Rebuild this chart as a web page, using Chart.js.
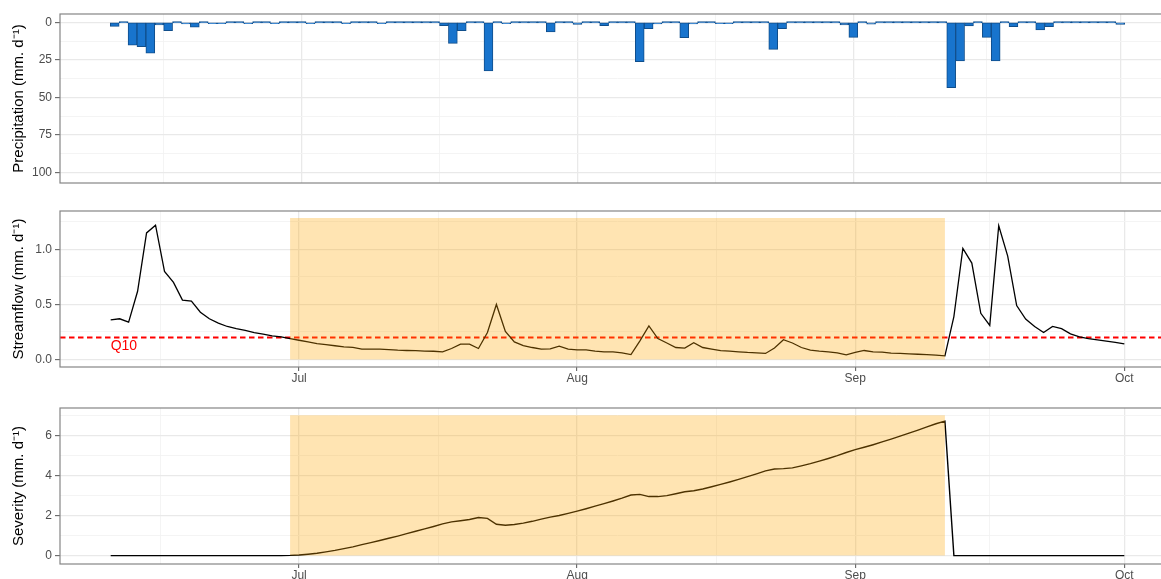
<!DOCTYPE html>
<html>
<head>
<meta charset="utf-8">
<script src="https://cdn.jsdelivr.net/npm/chart.js@4.4.0/dist/chart.umd.min.js"></script>
<style>
  html, body { margin: 0; padding: 0; overflow: hidden; background: #fff; }
  #wrap { position: relative; width: 1176px; height: 600px; }
  canvas { position: absolute; left: 0; }
</style>
</head>
<body>
<div id="wrap">
  <canvas id="precipChart" width="1176" height="195" style="top:0px"></canvas>
  <canvas id="flowChart" width="1176" height="196" style="top:196px"></canvas>
  <canvas id="sevChart" width="1176" height="207" style="top:393px"></canvas>
</div>
<script>
// daily series, day 0 = 10 June, last day = 1 October
let precipitation = [
  2.7, 0, 15.3, 16.2, 20.6, 1.8, 5.6, 0, 1.1, 3.3,
  0, 0.3, 0.3, 0, 0, 0.2, 0, 0, 0.2, 0,
  0, 0, 0.2, 0, 0, 0, 0.2, 0, 0, 0,
  0.2, 0, 0, 0, 0, 0, 0, 2.2, 14.0, 5.6,
  0, 0, 32.4, 0, 1.0, 0, 0, 0, 0, 6.4,
  0, 0, 1.4, 0, 0, 2.2, 0, 0, 0, 26.2,
  4.2, 1.1, 0, 0, 10.2, 1.1, 0, 0, 0.8, 0.8,
  0, 0, 0, 0, 18.0, 4.2, 0, 0, 0, 0,
  0, 0, 1.8, 10.0, 0, 1.2, 0, 0, 0, 0,
  0, 0, 0, 0, 43.5, 25.7, 2.5, 0, 10.0, 25.7,
  0, 2.9, 0, 0, 5.1, 2.9, 0, 0, 0, 0,
  0, 0, 0, 1.4
];

let streamflow = [
  0.36, 0.37, 0.34, 0.62, 1.15, 1.22, 0.80, 0.70, 0.54, 0.53,
  0.43, 0.37, 0.33, 0.30, 0.28, 0.265, 0.245, 0.23, 0.215, 0.205,
  0.19, 0.175, 0.16, 0.145, 0.135, 0.125, 0.115, 0.11, 0.095, 0.095,
  0.094, 0.09, 0.085, 0.082, 0.08, 0.077, 0.075, 0.07, 0.10, 0.14,
  0.14, 0.10, 0.245, 0.50, 0.255, 0.16, 0.127, 0.109, 0.094, 0.097,
  0.121, 0.094, 0.088, 0.088, 0.076, 0.07, 0.07, 0.06, 0.045, 0.17,
  0.306, 0.19, 0.15, 0.109, 0.103, 0.152, 0.109, 0.094, 0.08, 0.076,
  0.07, 0.064, 0.06, 0.055, 0.105, 0.18, 0.15, 0.109, 0.085, 0.076,
  0.07, 0.061, 0.042, 0.064, 0.082, 0.07, 0.067, 0.058, 0.055, 0.052,
  0.048, 0.045, 0.04, 0.033, 0.39, 1.01, 0.876, 0.42, 0.31, 1.215,
  0.94, 0.49, 0.367, 0.30, 0.245, 0.30, 0.28, 0.233, 0.206, 0.19,
  0.179, 0.167, 0.155, 0.142
];

let severity = [
  0, 0, 0, 0, 0, 0, 0, 0, 0, 0,
  0, 0, 0, 0, 0, 0, 0, 0, 0, 0,
  0.01, 0.03, 0.07, 0.12, 0.19, 0.26, 0.35, 0.44, 0.55, 0.65,
  0.76, 0.87, 0.98, 1.1, 1.22, 1.34, 1.46, 1.59, 1.69, 1.75,
  1.81, 1.91, 1.87, 1.57, 1.52, 1.56, 1.63, 1.72, 1.83, 1.93,
  2.01, 2.12, 2.23, 2.35, 2.48, 2.61, 2.74, 2.88, 3.04, 3.07,
  2.96, 2.96, 3.01, 3.1, 3.2, 3.25, 3.34, 3.45, 3.57, 3.69,
  3.82, 3.96, 4.1, 4.25, 4.34, 4.36, 4.4, 4.5, 4.61, 4.74,
  4.87, 5.01, 5.17, 5.31, 5.43, 5.56, 5.7, 5.84, 5.99, 6.14,
  6.29, 6.45, 6.61, 6.74, 0, 0, 0, 0, 0, 0,
  0, 0, 0, 0, 0, 0, 0, 0, 0, 0,
  0, 0, 0, 0
];

// drought event (day index) and threshold
let q10 = 0.2;
let eventStart = 20;
let eventEnd = 93;
let flowShadeTop = 1.285;
let sevShadeTop = 7.04;

// axis ticks
let xTickDays = [21, 52, 83, 113];
let xTickLabels = ['Jul', 'Aug', 'Sep', 'Oct'];
let xMinorDays = [5.5, 36.5, 67.5, 98];

let precipTicks = [0, 25, 50, 75, 100];
let precipLabels = ['0', '25', '50', '75', '100'];
let precipMinor = [12.5, 37.5, 62.5, 87.5];

let flowTicks = [0, 0.5, 1.0];
let flowLabels = ['0.0', '0.5', '1.0'];
let flowMinor = [0.25, 0.75, 1.25];

let sevTicks = [0, 2, 4, 6];
let sevLabels = ['0', '2', '4', '6'];
let sevMinor = [1, 3, 5, 7];

const FONT = "'Liberation Sans', Arial, sans-serif";
const GRID_MAJOR = '#e9e9e9';
const GRID_MINOR = '#f3f3f3';
const SHADE = 'rgba(255,165,0,0.3)';

function toPoints(values) {
  return values.map((v, i) => ({ x: i, y: v }));
}

// major + minor ticks in one sorted list, minor ones flagged
function withMinor(major, minor) {
  return major.map(v => ({ value: v, minor: false }))
    .concat(minor.map(v => ({ value: v, minor: true })))
    .sort((a, b) => a.value - b.value);
}

function gridStyle(drawTicks, tickLength) {
  return {
    offset: false,
    drawTicks: drawTicks,
    tickLength: tickLength,
    tickWidth: 1,
    color: c => (c.tick && c.tick.minor) ? GRID_MINOR : GRID_MAJOR,
    lineWidth: c => (c.tick && c.tick.minor) ? 0.9 : 1.3,
    tickColor: c => (c.tick && c.tick.minor) ? 'rgba(0,0,0,0)' : '#555'
  };
}

function xScale(min, max, showLabels, height) {
  return {
    type: 'linear',
    min: min,
    max: max,
    bounds: 'data',
    offset: false,
    afterBuildTicks: s => { s.ticks = withMinor(xTickDays, xMinorDays); },
    afterFit: s => { s.height = height; },
    ticks: {
      display: showLabels,
      autoSkip: false,
      maxRotation: 0,
      padding: 0,
      color: '#4d4d4d',
      font: { family: FONT, size: 12 },
      callback: v => {
        const i = xTickDays.indexOf(v);
        return i < 0 ? '' : xTickLabels[i];
      }
    },
    grid: gridStyle(showLabels, 4),
    border: { display: false }
  };
}

function yScale(cfg) {
  return {
    type: 'linear',
    min: cfg.min,
    max: cfg.max,
    reverse: !!cfg.reverse,
    bounds: 'data',
    beginAtZero: false,
    afterBuildTicks: s => { s.ticks = withMinor(cfg.ticks, cfg.minor); },
    afterFit: s => { s.width = 60; },
    ticks: {
      autoSkip: false,
      padding: 3,
      color: '#4d4d4d',
      font: { family: FONT, size: 12 },
      callback: v => {
        const i = cfg.ticks.indexOf(v);
        return i < 0 ? '' : cfg.labels[i];
      }
    },
    grid: gridStyle(true, 5),
    border: { display: false },
    title: {
      display: true,
      text: cfg.title,
      color: '#000',
      font: { family: FONT, size: 15 },
      padding: { top: 10, bottom: 0 }
    }
  };
}

// grey rectangle round every panel
const panelBorder = {
  id: 'panelBorder',
  afterDraw(chart) {
    const a = chart.chartArea;
    const ctx = chart.ctx;
    ctx.save();
    ctx.strokeStyle = '#858585';
    ctx.lineWidth = 1.2;
    ctx.strokeRect(a.left, a.top, a.right - a.left, a.bottom - a.top);
    ctx.restore();
  }
};

// dashed Q10 threshold line and its label, under the datasets
const q10Line = {
  id: 'q10Line',
  beforeDatasetsDraw(chart) {
    const ctx = chart.ctx;
    const a = chart.chartArea;
    const py = chart.scales.y.getPixelForValue(q10);
    ctx.save();
    ctx.strokeStyle = '#ff0000';
    ctx.lineWidth = 1.8;
    ctx.setLineDash([5.5, 3.5]);
    ctx.beginPath();
    ctx.moveTo(a.left, py);
    ctx.lineTo(a.right, py);
    ctx.stroke();
    ctx.setLineDash([]);
    ctx.fillStyle = '#ff0000';
    ctx.font = '14px ' + FONT;
    ctx.textAlign = 'left';
    ctx.textBaseline = 'middle';
    ctx.fillText('Q10', chart.scales.x.getPixelForValue(0), py + 9);
    ctx.restore();
  }
};

function baseOptions(padTop, scales) {
  return {
    responsive: false,
    animation: false,
    layout: { padding: { top: padTop, right: 1, bottom: 0, left: 0 } },
    plugins: { legend: { display: false }, tooltip: { enabled: false } },
    scales: scales
  };
}

// 1: precipitation bars, axis reversed
new Chart(document.getElementById('precipChart'), {
  type: 'bar',
  data: {
    datasets: [{
      data: toPoints(precipitation),
      backgroundColor: '#1874CD',
      borderColor: '#104E8B',
      borderWidth: 1,
      borderSkipped: false,
      barPercentage: 1,
      categoryPercentage: 1,
      minBarLength: 1.5
    }]
  },
  options: baseOptions(14, {
    x: xScale(-6.15, 119.15, false, 12),
    y: yScale({ min: -5.5, max: 106.85, reverse: true, ticks: precipTicks, labels: precipLabels,
      minor: precipMinor, title: 'Precipitation (mm. d\u207B\u00B9)' })
  }),
  plugins: [panelBorder]
});

// 2: streamflow with Q10 and the drought period shaded on top
new Chart(document.getElementById('flowChart'), {
  type: 'line',
  data: {
    datasets: [
      {
        data: [{ x: eventStart, y: flowShadeTop }, { x: eventEnd, y: flowShadeTop }],
        fill: 'origin',
        backgroundColor: SHADE,
        borderColor: 'rgba(0,0,0,0)',
        borderWidth: 0,
        pointRadius: 0
      },
      {
        data: toPoints(streamflow),
        borderColor: '#000',
        borderWidth: 1.3,
        pointRadius: 0,
        fill: false,
        tension: 0
      }
    ]
  },
  options: baseOptions(15, {
    x: xScale(-5.65, 118.65, true, 25),
    y: yScale({ min: -0.068, max: 1.349, ticks: flowTicks, labels: flowLabels,
      minor: flowMinor, title: 'Streamflow (mm. d\u207B\u00B9)' })
  }),
  plugins: [panelBorder, q10Line]
});

// 3: severity (accumulated deficit)
new Chart(document.getElementById('sevChart'), {
  type: 'line',
  data: {
    datasets: [
      {
        data: [{ x: eventStart, y: sevShadeTop }, { x: eventEnd, y: sevShadeTop }],
        fill: 'origin',
        backgroundColor: SHADE,
        borderColor: 'rgba(0,0,0,0)',
        borderWidth: 0,
        pointRadius: 0
      },
      {
        data: toPoints(severity),
        borderColor: '#000',
        borderWidth: 1.4,
        pointRadius: 0,
        fill: false,
        tension: 0
      }
    ]
  },
  options: baseOptions(15, {
    x: xScale(-5.65, 118.65, true, 36),
    y: yScale({ min: -0.42, max: 7.4, ticks: sevTicks, labels: sevLabels,
      minor: sevMinor, title: 'Severity (mm. d\u207B\u00B9)' })
  }),
  plugins: [panelBorder]
});
</script>
</body>
</html>
